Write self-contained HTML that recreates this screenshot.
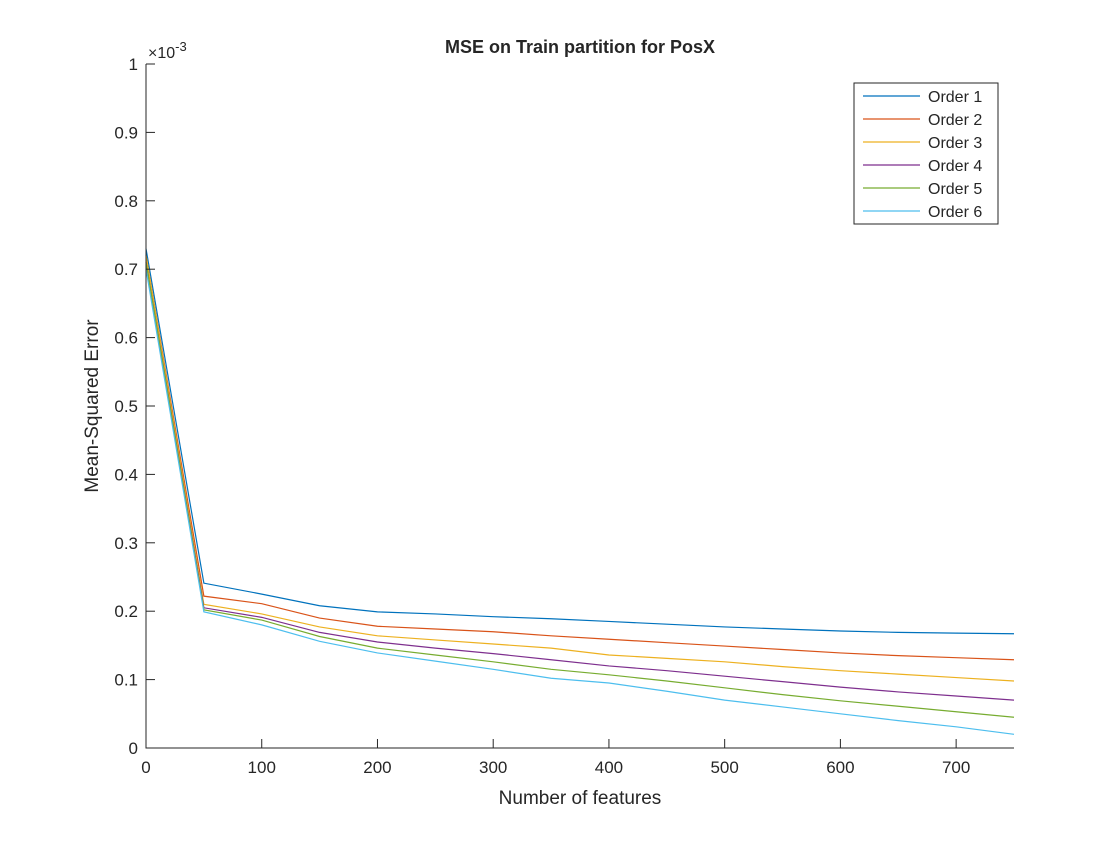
<!DOCTYPE html>
<html><head><meta charset="utf-8"><style>
body{margin:0;background:#fff;}
svg text{font-family:"Liberation Sans",sans-serif;fill:#262626;}
</style></head><body>
<svg id="chart" width="1120" height="840" xmlns="http://www.w3.org/2000/svg">
<rect x="0" y="0" width="1120" height="840" fill="#fff"/>
<g id="plot"></g>
</svg>
<script>
const features = [0,50,100,150,200,250,300,350,400,450,500,550,600,650,700,750];
const order1 = [0.73,0.241,0.225,0.208,0.199,0.196,0.192,0.189,0.185,0.181,0.177,0.174,0.171,0.169,0.168,0.167];
const order2 = [0.72,0.222,0.211,0.190,0.178,0.174,0.170,0.164,0.159,0.154,0.149,0.144,0.139,0.135,0.132,0.129];
const order3 = [0.72,0.210,0.196,0.177,0.164,0.158,0.152,0.146,0.136,0.131,0.126,0.119,0.113,0.108,0.103,0.098];
const order4 = [0.71,0.205,0.191,0.169,0.155,0.146,0.138,0.129,0.120,0.113,0.105,0.097,0.089,0.082,0.076,0.070];
const order5 = [0.71,0.202,0.187,0.163,0.146,0.136,0.126,0.115,0.107,0.098,0.088,0.078,0.069,0.061,0.053,0.045];
const order6 = [0.70,0.199,0.180,0.156,0.139,0.127,0.115,0.102,0.095,0.083,0.070,0.060,0.050,0.040,0.031,0.020];
const seriesNames = ["Order 1","Order 2","Order 3","Order 4","Order 5","Order 6"];
const xTicks = [0,100,200,300,400,500,600,700];
const yTicks = [0,0.1,0.2,0.3,0.4,0.5,0.6,0.7,0.8,0.9,1];
const yTickLabels = ["0","0.1","0.2","0.3","0.4","0.5","0.6","0.7","0.8","0.9","1"];

const series=[order1,order2,order3,order4,order5,order6];
const colors=["#0072bd","#d95319","#edb120","#7e2f8e","#77ac30","#4dbeee"];
const L=146,R=1014,T=64,B=748;
const xS=v=>L+(v-0)/(750-0)*(R-L);
const yS=v=>B-(v-0)/(1-0)*(B-T);
const NS="http://www.w3.org/2000/svg";
const g=document.getElementById('plot');
function mk(tag,attrs,parent){const e=document.createElementNS(NS,tag);for(const k in attrs)e.setAttribute(k,attrs[k]);(parent||g).appendChild(e);return e;}

series.forEach((s,i)=>{
  const p=mk('polyline',{points:s.map((v,j)=>xS(features[j])+','+yS(v)).join(' '),fill:'none',stroke:colors[i],'stroke-width':1.2});
  
  
});
// axes
const ax=mk('path',{d:`M${L},${T}V${B}H${R}`,fill:'none',stroke:'#262626','stroke-width':1});


xTicks.forEach(t=>{
  const x=xS(t);
  mk('line',{x1:x,x2:x,y1:B,y2:B-9,stroke:'#262626'});
  const tx=mk('text',{x:x,y:B+25,'text-anchor':'middle','font-size':17});
  tx.textContent=t;
  
  
});
yTicks.forEach((t,i)=>{
  const y=yS(t);
  mk('line',{x1:L,x2:L+9,y1:y,y2:y,stroke:'#262626'});
  const tx=mk('text',{x:L-8,y:y+6,'text-anchor':'end','font-size':17});
  tx.textContent=yTickLabels[i];
  
  
});
const ex=mk('text',{x:148,y:58,'font-size':16});
ex.innerHTML='×10<tspan dy="-7" font-size="13">-3</tspan>';


const ti=mk('text',{x:580,y:53,'text-anchor':'middle','font-size':18,'font-weight':'bold',fill:'#000'});
ti.textContent='MSE on Train partition for PosX';


const xl=mk('text',{x:580,y:804,'text-anchor':'middle','font-size':19});
xl.textContent='Number of features';


const yl=mk('text',{x:0,y:0,'text-anchor':'middle','font-size':19,transform:'translate(98,406) rotate(-90)'});
yl.textContent='Mean-Squared Error';


// legend
const lg=mk('g',{});


mk('rect',{x:854,y:83,width:144,height:141,fill:'#fff',stroke:'#262626'},lg);
seriesNames.forEach((n,i)=>{
  const y=96+i*23;
  const e=mk('g',{},lg);
  
  
  mk('line',{x1:863,x2:920,y1:y,y2:y,stroke:colors[i],'stroke-width':1.2},e);
  const t=mk('text',{x:928,y:y+6,'font-size':16},e);
  t.textContent=n;
});
</script>
</body></html>
